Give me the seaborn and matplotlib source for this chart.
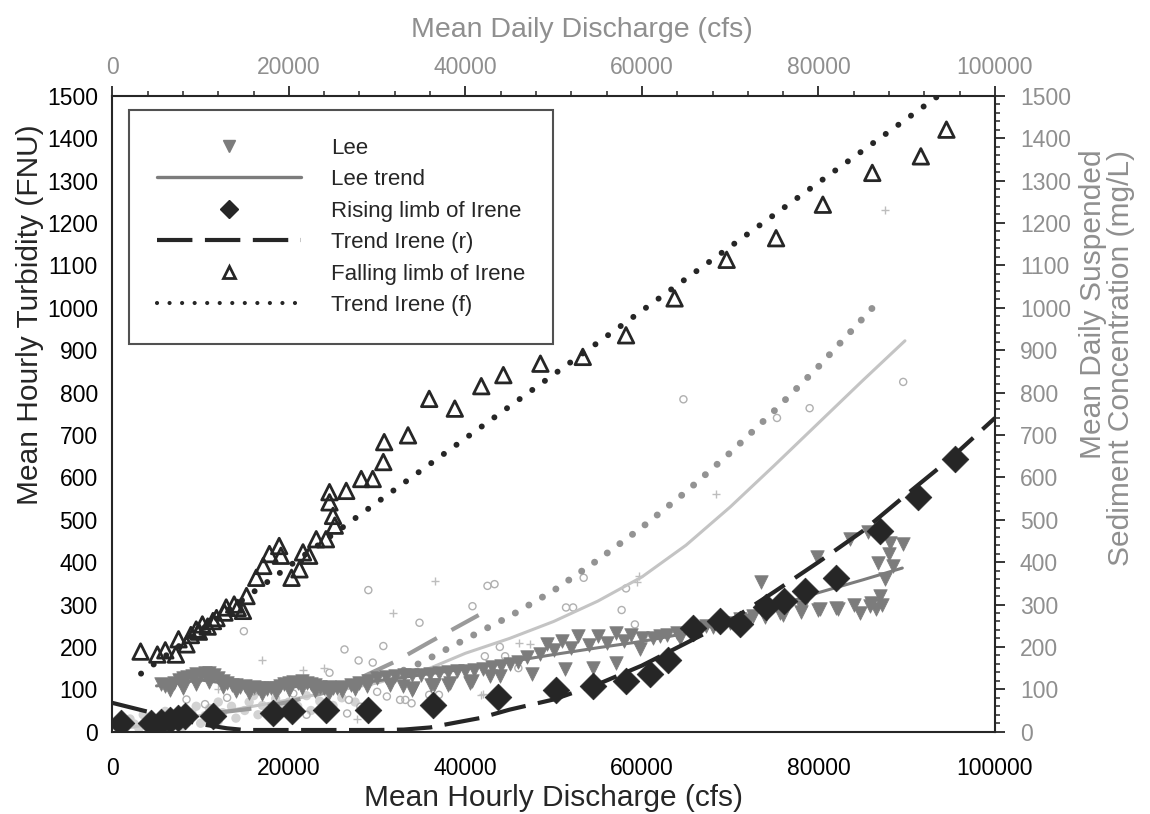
import matplotlib
matplotlib.use("Agg")
import matplotlib.pyplot as plt
import seaborn as sns
from matplotlib.lines import Line2D

# ---------------- data ----------------
# Hourly data (bottom / left axes)
lee_x = [5500, 6000, 6500, 7000, 7500, 8000, 8500, 9000, 9500, 10000,
         10500, 11000, 11500, 12000, 12500, 13000, 13500, 14000, 14500, 15000,
         15500, 16000, 16500, 17000, 17500, 18000, 18500, 19000, 19500, 20000,
         20500, 21000, 21500, 22000, 22500, 23000, 23500, 24000, 24500, 25000,
         25500, 26000, 27000, 28000, 29000, 30000, 31000, 32000, 33000, 34000,
         35000, 36000, 37000, 38000, 39000, 40000, 41000, 42000, 43000, 44000,
         45000, 46000,
         6500, 8000, 9500, 11000, 12500, 14000, 15500, 17000, 18500, 20000,
         21500, 23000, 24500, 26000, 27500,
         28800, 31500, 32900, 33900, 34100, 36100, 36400, 38000, 38300, 40500,
         40800, 42800, 43900, 47500, 51300, 54500, 57100, 59800,
         47000, 48500, 50000, 52000, 54000, 56000, 58000, 60000, 62000, 64000,
         66000, 68000, 70000, 72000, 74000, 76000, 78000, 80000, 82000, 84000, 86000,
         49200, 50900, 52800, 55000, 57100, 58800, 61300, 62800, 64300, 67300,
         68800, 71100, 72600, 73500, 75600, 78100, 80200, 82200, 84700, 85800,
         87000, 87500, 88500, 86800, 79800, 83600, 85600, 88100, 89600, 87200,
         86500, 88000]
lee_y = [112, 108, 110, 116, 122, 126, 130, 132, 136, 134,
         138, 138, 134, 126, 120, 114, 110, 110, 106, 108,
         104, 106, 102, 104, 100, 104, 102, 108, 112, 116,
         118, 114, 120, 116, 112, 110, 106, 102, 106, 104,
         102, 106, 110, 116, 120, 126, 130, 132, 134, 134,
         134, 136, 138, 140, 142, 142, 146, 148, 152, 156,
         160, 164,
         98, 104, 112, 118, 106, 96, 92, 90, 92, 98,
         102, 96, 92, 96, 100,
         107, 111, 107, 99, 103, 111, 111, 111, 115, 115,
         119, 131, 131, 135, 147, 151, 162, 194,
         176, 184, 192, 198, 204, 210, 214, 220, 226, 232,
         240, 248, 256, 262, 270, 276, 282, 288, 292, 298, 304,
         206, 214, 226, 226, 233, 229, 221, 229, 221, 249,
         257, 265, 273, 352, 281, 293, 289, 289, 281, 296,
         320, 360, 391, 399, 411, 454, 470, 446, 442, 300,
         290, 420]

lee_trend_x = [5000, 10000, 15000, 20000, 25000, 30000, 35000, 40000, 45000,
               50000, 55000, 60000, 65000, 70000, 75000, 80000, 85000, 89500]
lee_trend_y = [108, 122, 108, 106, 108, 120, 134, 148, 165,
               182, 198, 213, 232, 262, 295, 328, 358, 386]

rise_x = [1000, 4400, 5500, 6500, 7400, 8200, 11400, 18200, 20400, 24200,
          29000, 36300, 43700, 50300, 54500, 58200, 60900, 63000, 65800, 68800,
          71100, 74100, 76100, 78500, 82000, 87000, 91300, 95500]
rise_y = [20, 20, 24, 28, 32, 36, 36, 44, 48, 52,
          52, 64, 82, 99, 107, 119, 135, 170, 245, 261,
          253, 293, 308, 332, 363, 474, 553, 643]

trend_r_x = [0, 5000, 10000, 13000, 15000, 20000, 25000, 30000, 33000, 36000,
             38000, 41600, 45000, 50000, 55000, 60000, 65000, 70000, 75000,
             80000, 85000, 90000, 95000, 100000]
trend_r_y = [68, 42, 18, 8, 4, 4, 4, 4, 5, 10,
             18, 32, 52, 76, 112, 156, 209, 262, 330,
             400, 473, 560, 645, 740]

fall_x = [3200, 5100, 6000, 7200, 7500, 8400, 8900, 9500, 9800, 10200,
          10800, 11400, 11800, 12700, 12900, 13800, 14200, 14800, 15200, 16300,
          17100, 17800, 18900, 19100, 20300, 21200, 21600, 22300, 23100, 24200,
          24600, 24600, 25000, 25200, 26500, 28200, 29500, 30700, 30800, 33500,
          35900, 38800, 41800, 44300, 48500, 53300, 58200, 63700, 69600, 75200,
          80500, 86100, 91600, 94500]
fall_y = [189, 182, 192, 182, 218, 206, 228, 241, 236, 253,
          248, 261, 268, 281, 293, 300, 292, 285, 320, 363,
          391, 419, 438, 415, 363, 383, 423, 415, 454, 454,
          565, 541, 509, 486, 568, 596, 596, 636, 683, 699,
          785, 762, 815, 841, 868, 884, 935, 1022, 1113, 1164,
          1243, 1318, 1357, 1420]

trend_f_x = [3250, 20000, 40000, 60000, 80000, 94000]
trend_f_y = [137, 390, 692, 993, 1295, 1506]

# Daily data (top / right axes)
daily_trend_dot_x = [33000, 35000, 40000, 45000, 50000, 55000, 60000, 65000,
                     70000, 75000, 80000, 86400]
daily_trend_dot_y = [145, 163, 218, 272, 333, 405, 482, 566,
                     658, 757, 861, 1006]

daily_trend_solid_x = [2000, 10000, 20000, 30000, 36000, 40000, 45000, 50000,
                       55000, 60000, 65000, 70000, 75000, 80000, 85000, 89800]
daily_trend_solid_y = [10, 38, 75, 115, 150, 185, 220, 260,
                       308, 365, 440, 530, 628, 728, 828, 922]

daily_trend_dash_x = [12000, 16000, 20000, 24000, 28000, 32000, 36000, 41500]
daily_trend_dash_y = [45, 55, 70, 92, 126, 165, 212, 275]

daily_open_x = [64700, 79000, 75300, 89600, 42500, 43300, 53400, 51400, 52200, 58200,
                57700, 59200, 43900, 42200, 29000, 14900, 26300, 30700, 34800, 40800,
                29500, 24600, 27900, 32600, 33200, 33900, 35900, 37000, 26800, 28100,
                26600, 30000, 31100, 8400, 10500, 13000, 16000, 18500, 20500, 22000,
                24000, 44500, 46000]
daily_open_y = [784, 763, 740, 825, 344, 348, 363, 293, 293, 338,
                287, 253, 200, 178, 334, 237, 194, 202, 257, 296,
                163, 139, 168, 75, 75, 67, 87, 87, 75, 59,
                43, 94, 83, 76, 65, 80, 95, 60, 90, 40,
                55, 178, 150]

daily_plus_x = [68400, 87500, 59700, 59400, 46100, 47300, 42000, 36500, 31800, 17000,
                41800, 27700, 21600, 12000, 19000, 24000, 29000, 35000, 60500]
daily_plus_y = [561, 1231, 367, 352, 210, 207, 88, 356, 279, 170,
                87, 29, 146, 100, 120, 150, 110, 140, 225]

daily_fill_x = [1500, 2500, 3000, 4000, 5000, 5500, 6500, 7000, 8000, 8500,
                9000, 10000, 10500, 11000, 12000, 12500, 13500, 14000, 15000, 15500,
                16500, 17000, 18000, 18500, 19500, 20000, 21000, 22000, 22500, 23500,
                24500, 25000, 26000, 27500, 3500, 6000, 9500, 2000, 12000, 16000]
daily_fill_y = [10, 18, 8, 22, 14, 30, 20, 35, 12, 28,
                45, 20, 38, 55, 25, 45, 60, 32, 50, 70,
                40, 62, 48, 78, 55, 70, 60, 85, 50, 72,
                90, 62, 80, 70, 40, 48, 60, 30, 70, 85]

x_ticks = [0, 20000, 40000, 60000, 80000, 100000]
y_ticks = list(range(0, 1501, 100))

legend_labels = ["Lee", "Lee trend", "Rising limb of Irene", "Trend Irene (r)",
                 "Falling limb of Irene", "Trend Irene (f)"]

# ---------------- styling ----------------
sns.set_theme(style="white")
plt.rcParams["font.family"] = ["Liberation Sans", "DejaVu Sans"]

DARK = "#262626"
LEE = "#7c7c7c"
GRAY_TXT = "#8f8f8f"
TICK_FS = 16.5
LABEL_FS = 21.5

fig = plt.figure(figsize=(11.5, 8.14), dpi=100)
ax = fig.add_axes([0.0977, 0.1011, 0.7675, 0.7813])
ax.set_facecolor("white")

# daily (secondary) data, drawn underneath
sns.scatterplot(x=daily_fill_x, y=daily_fill_y, ax=ax, marker="o", s=45,
                color="#d2d2d2", edgecolor="none", linewidth=0, zorder=1)
sns.scatterplot(x=daily_open_x, y=daily_open_y, ax=ax, marker="o", s=26,
                color="#b0b0b0", facecolors="none", edgecolor="#b0b0b0",
                linewidth=1.0, zorder=2)
sns.scatterplot(x=daily_plus_x, y=daily_plus_y, ax=ax, marker="+", s=30,
                color="#bdbdbd", linewidth=1.0, zorder=2)
sns.lineplot(x=daily_trend_solid_x, y=daily_trend_solid_y, ax=ax, sort=False,
             estimator=None, color="#c4c4c4", linewidth=2.2, zorder=2)
sns.lineplot(x=daily_trend_dash_x, y=daily_trend_dash_y, ax=ax, sort=False,
             estimator=None, color="#9a9a9a", linewidth=3.0,
             linestyle=(0, (8, 4)), zorder=2)
sns.lineplot(x=daily_trend_dot_x, y=daily_trend_dot_y, ax=ax, sort=False,
             estimator=None, color="#939393", linewidth=5.0,
             linestyle=(0, (0.01, 2.25)), dash_capstyle="round", zorder=2)

# hourly data
sns.scatterplot(x=lee_x, y=lee_y, ax=ax, marker="v", s=95, color=LEE,
                edgecolor=LEE, linewidth=0.5, zorder=3)
sns.lineplot(x=lee_trend_x, y=lee_trend_y, ax=ax, sort=False, estimator=None,
             color=LEE, linewidth=2.2, zorder=4)
sns.lineplot(x=trend_r_x, y=trend_r_y, ax=ax, sort=False, estimator=None,
             color=DARK, linewidth=3.0, linestyle=(0, (8.5, 3)), zorder=4)
sns.scatterplot(x=rise_x, y=rise_y, ax=ax, marker="D", s=185, color=DARK,
                edgecolor=DARK, linewidth=0.5, zorder=5)
sns.lineplot(x=trend_f_x, y=trend_f_y, ax=ax, sort=False, estimator=None,
             color=DARK, linewidth=4.3, linestyle=(0, (0.01, 2.6)),
             dash_capstyle="round", zorder=5)
sns.scatterplot(x=fall_x, y=fall_y, ax=ax, marker="^", s=125, color=DARK,
                facecolors="none", edgecolor=DARK, linewidth=2.0, zorder=6)

# ---------------- axes ----------------
ax.set_xlim(0, 100000)
ax.set_ylim(0, 1500)
ax.set_xticks(x_ticks)
ax.set_xticks(range(0, 100001, 4000), minor=True)
ax.set_yticks(y_ticks)
ax.set_yticks(range(0, 1501, 20), minor=True)
ax.tick_params(which="major", direction="out", length=7, width=1.3,
               color=DARK, labelsize=TICK_FS, labelcolor="black")
ax.tick_params(which="minor", direction="out", length=3.5, width=1.1, color=DARK)
ax.tick_params(axis="x", which="major", pad=11)
ax.tick_params(axis="y", which="major", pad=3.5)
for sp in ax.spines.values():
    sp.set_visible(True)
    sp.set_color(DARK)
    sp.set_linewidth(1.5)
ax.set_xlabel("Mean Hourly Discharge (cfs)", fontsize=LABEL_FS, labelpad=3)
ax.set_ylabel("Mean Hourly Turbidity (FNU)", fontsize=LABEL_FS)
ax.yaxis.set_label_coords(-0.093, 0.655, transform=ax.transAxes)
ax.yaxis.label.set_verticalalignment("center")

secx = ax.secondary_xaxis("top")
secx.set_xticks(x_ticks)
secx.set_xticks(range(0, 100001, 4000), minor=True)
secx.tick_params(which="major", direction="out", length=7, width=1.3,
                 color=DARK, labelsize=TICK_FS, labelcolor=GRAY_TXT, pad=5)
secx.tick_params(which="minor", direction="out", length=3.5, width=1.1, color=DARK)
secx.set_xlabel("Mean Daily Discharge (cfs)", fontsize=20.5, color=GRAY_TXT)
secx.xaxis.set_label_coords(0.532, 1.103, transform=ax.transAxes)
secx.xaxis.label.set_verticalalignment("center")

secy = ax.secondary_yaxis("right")
secy.set_yticks(y_ticks)
secy.set_yticks(range(0, 1501, 20), minor=True)
secy.tick_params(which="major", direction="out", length=7, width=1.3,
                 color=DARK, labelsize=TICK_FS, labelcolor=GRAY_TXT, pad=11)
secy.tick_params(which="minor", direction="out", length=3.5, width=1.1, color=DARK)
secy.set_ylabel("Mean Daily Suspended\nSediment Concentration (mg/L)",
                fontsize=LABEL_FS, color=GRAY_TXT, linespacing=1.0)
secy.yaxis.set_label_coords(1.127, 0.915, transform=ax.transAxes)
secy.yaxis.label.set_verticalalignment("center")
secy.yaxis.label.set_horizontalalignment("right")
secy.yaxis.label.set_multialignment("right")

# ---------------- legend ----------------
handles = [
    Line2D([], [], linestyle="none", marker="v", markersize=8, color=LEE),
    Line2D([], [], color=LEE, linewidth=2.4),
    Line2D([], [], linestyle="none", marker="D", markersize=9.5, color=DARK),
    Line2D([], [], color=DARK, linewidth=3.0, linestyle=(0, (8.5, 3))),
    Line2D([], [], linestyle="none", marker="^", markersize=8,
           markerfacecolor="none", markeredgecolor=DARK, markeredgewidth=2.0),
    Line2D([], [], color=DARK, linewidth=3.0, linestyle=(0, (0.01, 3.0)),
           dash_capstyle="round"),
]
leg = ax.legend(handles, legend_labels, loc="upper left",
                bbox_to_anchor=(0.019, 0.9775), borderaxespad=0,
                fontsize=16, frameon=True, fancybox=False, shadow=False,
                handlelength=6.5, handletextpad=1.35, borderpad=1.25,
                labelspacing=0.47)
leg.get_frame().set_edgecolor(DARK)
leg.get_frame().set_linewidth(1.5)
leg.set_zorder(10)

fig.savefig("out.png", dpi=100, facecolor="white")
